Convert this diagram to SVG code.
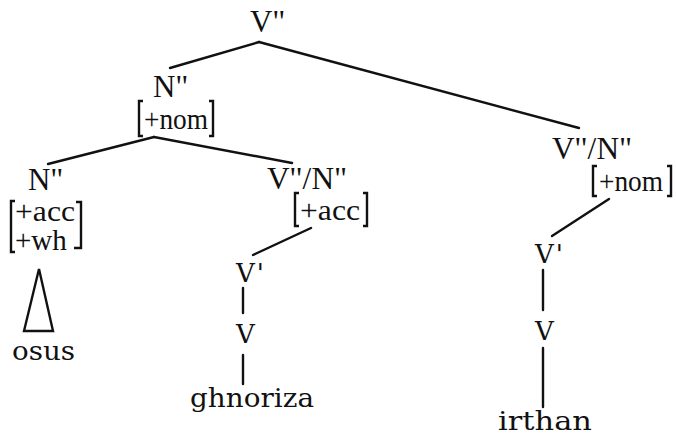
<svg xmlns="http://www.w3.org/2000/svg" width="676" height="437" viewBox="0 0 676 437">
<style>
.s{font-family:"Liberation Serif","Times New Roman",serif;font-size:31px;fill:#111;letter-spacing:0.5px}
.f{font-family:"Liberation Serif","Times New Roman",serif;font-size:29px;fill:#111}
.m{font-family:"DejaVu Serif",serif;font-size:26px;fill:#111;letter-spacing:2px}
.w{font-family:"DejaVu Serif",serif;font-size:26px;fill:#111}
.e{stroke:#111;stroke-width:2.4;fill:none;stroke-linecap:round}
.b{stroke:#111;stroke-width:2.4;fill:none}
</style>
<rect width="676" height="437" fill="#fff"/>
<g id="connectors">
<line class="e" x1="259" y1="42" x2="170" y2="68"/>
<line class="e" x1="259" y1="42" x2="579" y2="128"/>
<line class="e" x1="154" y1="137" x2="48" y2="164"/>
<line class="e" x1="154" y1="137" x2="292" y2="163"/>
<line class="e" x1="311" y1="228" x2="253" y2="255"/>
<line class="e" x1="243" y1="288" x2="243" y2="313"/>
<line class="e" x1="243" y1="355" x2="243" y2="384"/>
<line class="e" x1="609" y1="199" x2="552" y2="236"/>
<line class="e" x1="543" y1="270" x2="543" y2="310"/>
<line class="e" x1="543" y1="348" x2="543" y2="407"/>
<polygon class="e" points="39,269 24,331 53,331"/>
</g>
<g id="n-root"><text class="s" x="250" y="32">V''</text></g>
<g id="n-subj">
<text class="s" x="153" y="97">N''</text>
<path class="b" d="M143,101 H139 V136 H143 M209,101 H213 V136 H209"/>
<text class="f" x="144" y="129" textLength="64" lengthAdjust="spacingAndGlyphs">+nom</text>
</g>
<g id="n-obj">
<text class="s" x="28" y="190">N''</text>
<path class="b" d="M15,201 H11 V252 H15 M76,202 H81 V248 H74"/>
<text class="f" x="15" y="221" textLength="60" lengthAdjust="spacingAndGlyphs">+acc</text>
<text class="f" x="15" y="250">+wh</text>
</g>
<g id="n-osus"><text class="w" x="12" y="360" textLength="63" lengthAdjust="spacingAndGlyphs">osus</text></g>
<g id="n-vn1">
<text class="s" x="267" y="189" textLength="80" lengthAdjust="spacingAndGlyphs">V''/N''</text>
<path class="b" d="M299,193 H295 V226 H299 M363,193 H367 V226 H363"/>
<text class="f" x="300" y="220" textLength="60" lengthAdjust="spacingAndGlyphs">+acc</text>
</g>
<g id="n-vbar1"><text class="m" x="236" y="282">V'</text></g>
<g id="n-v1"><text class="m" x="236" y="343">V</text></g>
<g id="n-ghnoriza"><text class="w" x="190" y="407" textLength="124" lengthAdjust="spacingAndGlyphs">ghnoriza</text></g>
<g id="n-vn2">
<text class="s" x="552" y="159" textLength="80" lengthAdjust="spacingAndGlyphs">V''/N''</text>
<path class="b" d="M597,166 H593 V196 H597 M667,166 H671 V196 H667"/>
<text class="f" x="599" y="191" textLength="64" lengthAdjust="spacingAndGlyphs">+nom</text>
</g>
<g id="n-vbar2"><text class="m" x="535" y="263">V'</text></g>
<g id="n-v2"><text class="m" x="535" y="340">V</text></g>
<g id="n-irthan"><text class="w" x="498" y="430" textLength="94" lengthAdjust="spacingAndGlyphs">irthan</text></g>
</svg>
